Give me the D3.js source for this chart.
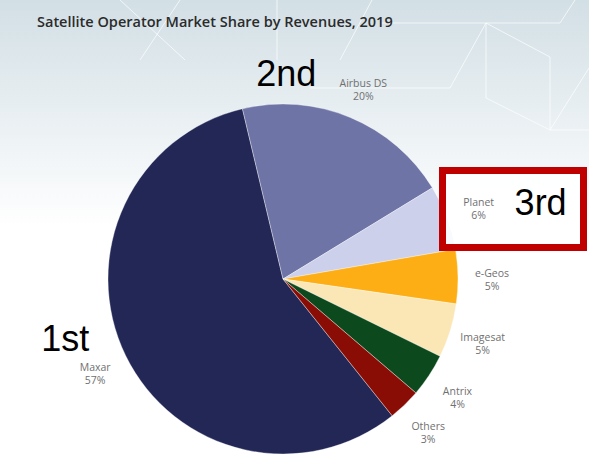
<!DOCTYPE html>
<html>
<head>
<meta charset="utf-8">
<script src="https://cdn.jsdelivr.net/npm/d3@7"></script>
<style>
  html, body { margin: 0; padding: 0; background: #fff; }
  svg { display: block; }
</style>
</head>
<body>
<div id="chart"></div>
<script>
// Satellite operator market share by revenues, 2019
const operators = ["Maxar", "Airbus DS", "Planet", "e-Geos", "Imagesat", "Antrix", "Others"];
const shares = [57, 20, 6, 5, 5, 4, 3];
const sliceColors = ["#222756", "#6f74a6", "#ccd0ea", "#fdae14", "#fbe6b5", "#0c4a1d", "#8a0d05"];
const ranks = ["1st", "2nd", "3rd"];
const rankOperators = ["Maxar", "Airbus DS", "Planet"];

const W = 589, H = 454;
const cx = 283, cy = 279, R = 175, labelR = 209;

const svg = d3.select("#chart").append("svg")
  .attr("width", W).attr("height", H);

// background gradient
const defs = svg.append("defs");
const grad = defs.append("linearGradient").attr("id", "bg")
  .attr("x1", 0).attr("y1", 0).attr("x2", 0).attr("y2", 1);
grad.append("stop").attr("offset", "0%").attr("stop-color", "#d2dfe5");
grad.append("stop").attr("offset", "50%").attr("stop-color", "#ffffff");
grad.append("stop").attr("offset", "100%").attr("stop-color", "#ffffff");
svg.append("rect").attr("width", W).attr("height", H).attr("fill", "url(#bg)");

// faint decorative network lines
const deco = [
  [[120, 0], [185, 60]], [[180, 0], [140, 60]], [[277, 0], [277, 60]],
  [[310, 88], [450, 88]], [[450, 88], [486, 23]], [[380, 23], [560, 23]],
  [[486, 23], [486, 98]], [[486, 98], [550, 130]], [[550, 130], [550, 57]],
  [[550, 57], [486, 23]], [[550, 130], [589, 130]], [[550, 130], [589, 68]],
  [[560, 23], [575, 0]], [[340, 60], [372, 0]]
];
svg.append("g").selectAll("line").data(deco).join("line")
  .attr("x1", d => d[0][0]).attr("y1", d => d[0][1])
  .attr("x2", d => d[1][0]).attr("y2", d => d[1][1])
  .attr("stroke", "#ffffff").attr("stroke-opacity", 0.7).attr("stroke-width", 1);

// title
svg.append("text")
  .attr("x", 37).attr("y", 27)
  .attr("font-family", "Open Sans, sans-serif")
  .attr("font-size", 14.5).attr("font-weight", 600)
  .attr("fill", "#2b2b2b")
  .text("Satellite Operator Market Share by Revenues, 2019");

const data = operators.map((name, i) => ({ name, value: shares[i], color: sliceColors[i] }));

const startA = 141.4 * Math.PI / 180;
const pie = d3.pie().value(d => d.value).sort(null)
  .startAngle(startA).endAngle(startA + 2 * Math.PI);
const arcs = pie(data);

const arc = d3.arc().innerRadius(0).outerRadius(R);
const labelArc = d3.arc().innerRadius(labelR).outerRadius(labelR);

const g = svg.append("g").attr("transform", `translate(${cx},${cy})`);

g.selectAll("path").data(arcs).join("path")
  .attr("d", arc)
  .attr("fill", d => d.data.color)
  .attr("stroke", "#ffffff").attr("stroke-opacity", 0.6).attr("stroke-width", 0.6);

// red highlight box around the 3rd place (semi-opaque white fill)
svg.append("rect")
  .attr("x", 442.5).attr("y", 170.5).attr("width", 141).attr("height", 77)
  .attr("fill", "#ffffff").attr("fill-opacity", 0.88)
  .attr("stroke", "#c00000").attr("stroke-width", 7);

const labelLayer = svg.append("g").attr("transform", `translate(${cx},${cy})`);

// slice labels
const lbl = labelLayer.selectAll("text.lbl").data(arcs).join("text")
  .attr("class", "lbl")
  .attr("transform", d => `translate(${labelArc.centroid(d)})`)
  .attr("text-anchor", "middle")
  .attr("font-family", "Open Sans, sans-serif")
  .attr("font-size", 10.5)
  .attr("fill", "#707070");
lbl.append("tspan").attr("x", 0).attr("dy", "0.05em").text(d => d.data.name);
lbl.append("tspan").attr("x", 0).attr("dy", "1.25em").text(d => d.data.value + "%");

// rank annotations, positioned relative to each operator's label
const rankOffset = { "Maxar": [-30, -20], "Airbus DS": [-77, 0], "Planet": [62, 10] };
rankOperators.forEach((name, i) => {
  const a = arcs.find(d => d.data.name === name);
  const [lx, ly] = labelArc.centroid(a);
  const [ox, oy] = rankOffset[name];
  labelLayer.append("text")
    .attr("x", lx + ox).attr("y", ly + oy)
    .attr("text-anchor", "middle")
    .attr("font-family", "Liberation Sans, Arial, sans-serif")
    .attr("font-size", 36)
    .attr("fill", "#000")
    .text(ranks[i]);
});
</script>
</body>
</html>
